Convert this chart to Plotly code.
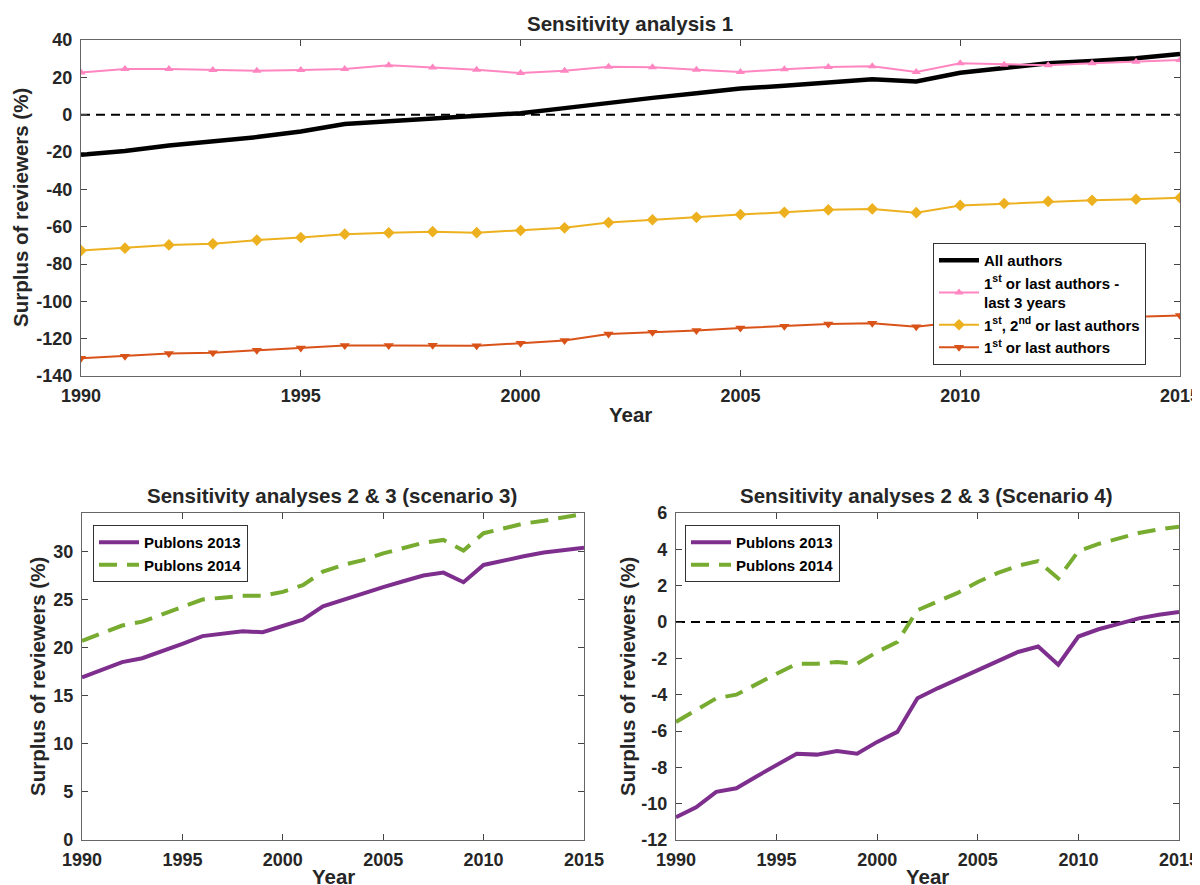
import plotly.graph_objects as go

years = list(range(1990, 2016))
x_ticks = [1990, 1995, 2000, 2005, 2010, 2015]
x_ticktext = ["1990", "1995", "2000", "2005", "2010", "2015"]

# Sensitivity analysis 1
all_authors = [-21.5, -19.5, -16.5, -14.5, -12.0, -9.0, -5.0, -3.5, -2.0, -1.0, 0.8,
               3.5, 6.5, 9.0, 11.5, 14.0, 15.5, 17.5, 19.0, 17.8, 22.5, 25.0, 27.5,
               28.8, 30.2, 32.5]
first_last_3y = [22.6, 24.4, 24.4, 23.9, 23.5, 23.9, 24.4, 26.5, 25.3, 24.0, 22.3,
                 23.5, 25.7, 25.4, 24.1, 22.9, 24.3, 25.6, 25.9, 22.9, 27.5, 26.8,
                 26.5, 27.5, 28.4, 29.3]
first_second_last = [-72.8, -71.5, -69.8, -69.2, -67.2, -65.8, -64.0, -63.3, -62.7,
                     -63.2, -62.0, -60.6, -57.8, -56.3, -55.0, -53.5, -52.3, -51.0,
                     -50.5, -52.5, -48.6, -47.6, -46.5, -45.9, -45.3, -44.5]
first_last = [-130.5, -129.4, -128.0, -127.5, -126.2, -125.0, -123.6, -123.6, -123.5,
              -123.8, -122.4, -121.0, -117.5, -116.6, -115.6, -114.3, -113.3, -112.2,
              -111.8, -113.6, -111.0, -110.4, -109.8, -109.0, -108.3, -107.6]
y1_ticks = [-140, -120, -100, -80, -60, -40, -20, 0, 20, 40]
y1_ticktext = ["-140", "-120", "-100", "-80", "-60", "-40", "-20", "0", "20", "40"]

# Sensitivity analyses 2 & 3 (scenario 3)
s3_publons2013 = [16.9, 17.7, 18.5, 18.9, 19.6, 20.4, 21.2, 21.5, 21.7, 21.6, 22.2,
                  22.9, 24.3, 25.0, 25.6, 26.3, 26.9, 27.5, 27.8, 26.8, 28.6, 29.1,
                  29.5, 29.9, 30.2, 30.4]
s3_publons2014 = [20.7, 21.5, 22.3, 22.7, 23.5, 24.3, 25.0, 25.2, 25.4, 25.4, 25.8,
                  26.5, 27.9, 28.6, 29.1, 29.8, 30.3, 30.9, 31.2, 30.1, 31.9, 32.4,
                  32.9, 33.2, 33.5, 33.9]
y2_ticks = [0, 5, 10, 15, 20, 25, 30]
y2_ticktext = ["0", "5", "10", "15", "20", "25", "30"]

# Sensitivity analyses 2 & 3 (Scenario 4)
s4_publons2013 = [-10.75, -10.2, -9.35, -9.15, -8.5, -7.85, -7.25, -7.3, -7.1, -7.25,
                  -6.6, -6.05, -4.2, -3.65, -3.15, -2.6, -2.15, -1.65, -1.35, -2.35,
                  -0.8, -0.4, -0.1, 0.2, 0.4, 0.55]
s4_publons2014 = [-5.5, -4.85, -4.2, -4.0, -3.4, -2.85, -2.3, -2.3, -2.2, -2.3, -1.65,
                  -1.1, 0.65, 1.1, 1.6, 2.2, 2.7, 3.1, 3.35, 2.4, 3.9, 4.3, 4.6, 4.9,
                  5.1, 5.25]
y3_ticks = [-12, -10, -8, -6, -4, -2, 0, 2, 4, 6]
y3_ticktext = ["-12", "-10", "-8", "-6", "-4", "-2", "0", "2", "4", "6"]

BLACK = "#000000"
PINK = "#ff86c1"
YELLOW = "#edb120"
ORANGE = "#d95319"
PURPLE = "#7e2f8e"
GREEN = "#77ac30"
FONT = "Liberation Sans"

fig = go.Figure()

fig.add_trace(go.Scatter(x=years, y=all_authors, mode="lines", name="All authors",
                         line=dict(color=BLACK, width=4.5), legend="legend",
                         xaxis="x", yaxis="y"))
fig.add_trace(go.Scatter(x=years, y=first_last_3y, mode="lines+markers",
                         name="1<sup>st</sup> or last authors -<br>last 3 years",
                         line=dict(color=PINK, width=2),
                         marker=dict(symbol="triangle-up", size=8, color=PINK),
                         legend="legend", xaxis="x", yaxis="y"))
fig.add_trace(go.Scatter(x=years, y=first_second_last, mode="lines+markers",
                         name="1<sup>st</sup>, 2<sup>nd</sup> or last authors",
                         line=dict(color=YELLOW, width=2),
                         marker=dict(symbol="diamond", size=9, color=YELLOW),
                         legend="legend", xaxis="x", yaxis="y"))
fig.add_trace(go.Scatter(x=years, y=first_last, mode="lines+markers",
                         name="1<sup>st</sup> or last authors",
                         line=dict(color=ORANGE, width=2),
                         marker=dict(symbol="triangle-down", size=9, color=ORANGE),
                         legend="legend", xaxis="x", yaxis="y"))

fig.add_trace(go.Scatter(x=years, y=s3_publons2013, mode="lines", name="Publons 2013",
                         line=dict(color=PURPLE, width=4), legend="legend2",
                         xaxis="x2", yaxis="y2"))
fig.add_trace(go.Scatter(x=years, y=s3_publons2014, mode="lines", name="Publons 2014",
                         line=dict(color=GREEN, width=4, dash="18px,10px"),
                         legend="legend2", xaxis="x2", yaxis="y2"))

fig.add_trace(go.Scatter(x=years, y=s4_publons2013, mode="lines", name="Publons 2013",
                         line=dict(color=PURPLE, width=4), legend="legend3",
                         xaxis="x3", yaxis="y3"))
fig.add_trace(go.Scatter(x=years, y=s4_publons2014, mode="lines", name="Publons 2014",
                         line=dict(color=GREEN, width=4, dash="18px,10px"),
                         legend="legend3", xaxis="x3", yaxis="y3"))

# page is shown with an 8px body margin; map page pixels to paper fractions
OFF = 8
W, H = 1200 - OFF, 885 - OFF
def px(p):
    return (p - OFF) / W
def py(p):
    return 1 - (p - OFF) / H
def xd(a, b):
    return [px(a), px(b)]
def yd(top, bottom):
    return [py(bottom), py(top)]

tickfont = dict(family=FONT, size=18, color="#262626", weight="bold")
titlefont = dict(family=FONT, size=20.5, color="#262626", weight="bold")
legfont = dict(family=FONT, size=15, color="#000", weight="bold")

def xaxis(domain, anchor):
    return dict(domain=domain, anchor=anchor, range=[1990, 2015],
                tickvals=x_ticks, ticktext=x_ticktext, ticklabeloverflow="allow",
                ticks="inside", ticklen=6, tickcolor="#444", ticklabelstandoff=3,
                showline=True, linecolor="#666", linewidth=1.3, mirror="ticks",
                showgrid=False, zeroline=False, tickfont=tickfont, automargin=False)

def yaxis(domain, anchor, rng, tv, tt):
    return dict(domain=domain, anchor=anchor, range=rng, tickvals=tv, ticktext=tt,
                ticks="inside", ticklen=6, tickcolor="#444", ticklabelstandoff=4,
                ticklabeloverflow="allow",
                showline=True, linecolor="#666", linewidth=1.3, mirror="ticks",
                showgrid=False, zeroline=False, tickfont=tickfont, automargin=False)

def label(text, x, y, angle=0):
    return dict(text=text, x=px(x), y=py(y), xref="paper", yref="paper",
                showarrow=False, font=titlefont, xanchor="center",
                yanchor="middle", textangle=angle)

leg_common = dict(xanchor="left", yanchor="top", bgcolor="white",
                  bordercolor="#333", borderwidth=1, font=legfont,
                  tracegroupgap=0, itemwidth=40)

fig.update_layout(
    width=W, height=H, margin=dict(l=0, r=0, t=0, b=0, autoexpand=False),
    plot_bgcolor="white", paper_bgcolor="white",
    font=dict(family=FONT, color="#262626"),
    xaxis=xaxis(xd(81, 1180), "y"),
    yaxis=yaxis(yd(40, 376), "x", [-140, 40], y1_ticks, y1_ticktext),
    xaxis2=xaxis(xd(82, 584), "y2"),
    yaxis2=yaxis(yd(513, 840), "x2", [0, 34], y2_ticks, y2_ticktext),
    xaxis3=xaxis(xd(676, 1179), "y3"),
    yaxis3=yaxis(yd(513, 840), "x3", [-12, 6], y3_ticks, y3_ticktext),
    legend=dict(x=px(933), y=py(243), **leg_common),
    legend2=dict(x=px(93), y=py(525), **leg_common),
    legend3=dict(x=px(685), y=py(525), **leg_common),
    annotations=[
        label("Sensitivity analysis 1", 630, 24),
        label("Year", 630, 414),
        label("Surplus of reviewers (%)", 21, 208, -90),
        label("Sensitivity analyses 2 &amp; 3 (scenario 3)", 332, 495),
        label("Year", 333, 876),
        label("Surplus of reviewers (%)", 37, 677, -90),
        label("Sensitivity analyses 2 &amp; 3 (Scenario 4)", 926, 495),
        label("Year", 927, 876),
        label("Surplus of reviewers (%)", 627, 677, -90),
    ],
    shapes=[
        dict(type="line", xref="x domain", yref="y", x0=0, x1=1, y0=0, y1=0,
             line=dict(color="black", width=2, dash="9px,6px"), layer="below"),
        dict(type="line", xref="x3 domain", yref="y3", x0=0, x1=1, y0=0, y1=0,
             line=dict(color="black", width=2, dash="9px,6px"), layer="below"),
    ],
)

fig.write_html("out.html")
